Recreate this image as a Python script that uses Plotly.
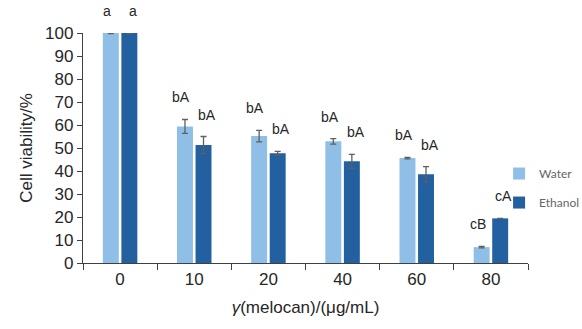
import plotly.graph_objects as go

categories = ["0", "10", "20", "40", "60", "80"]
water = [100, 59.4, 55.2, 52.9, 45.6, 6.9]
water_err = [0.3, 3.0, 2.5, 1.2, 0.3, 0.3]
ethanol = [100, 51.3, 47.7, 44.2, 38.6, 19.4]
ethanol_err = [0.3, 3.7, 0.8, 3.0, 3.3, 0]
water_labels = ["a", "bA", "bA", "bA", "bA", "cB"]
ethanol_labels = ["a", "bA", "bA", "bA", "bA", "cA"]
y_ticks = [0, 10, 20, 30, 40, 50, 60, 70, 80, 90, 100]
Y_MAX = 100

WATER_C = "#8FBFE6"
ETH_C = "#23609F"
FONT = "Liberation Sans, Arial, sans-serif"
AX_C = "#404040"

fig = go.Figure()
fig.add_trace(go.Bar(
    x=categories, y=water, name="Water", legendgroup="w",
    marker=dict(color=WATER_C, line=dict(width=0)),
    error_y=dict(type="data", array=water_err, color="#5f5f5f", thickness=1.3, width=3),
    cliponaxis=False,
))
fig.add_trace(go.Bar(
    x=categories, y=ethanol, name="Ethanol", legendgroup="e",
    marker=dict(color=ETH_C, line=dict(width=0)),
    error_y=dict(type="data", array=ethanol_err, color="#5f5f5f", thickness=1.3, width=3),
    cliponaxis=False,
))

# significance letters above each bar (placed at value + error); x is the category index
for i in range(len(categories)):
    fig.add_annotation(x=i, y=min(water[i] + water_err[i], Y_MAX), text=water_labels[i],
                       xref="x", yref="y", showarrow=False, xshift=-13, yshift=12,
                       yanchor="bottom", font=dict(family=FONT, size=14, color="#262626"))
    fig.add_annotation(x=i, y=min(ethanol[i] + ethanol_err[i], Y_MAX), text=ethanol_labels[i],
                       xref="x", yref="y", showarrow=False, xshift=13, yshift=12,
                       yanchor="bottom", font=dict(family=FONT, size=14, color="#262626"))

fig.update_layout(
    width=582, height=329,
    margin=dict(l=83, r=54, t=33, b=66, autoexpand=False),
    paper_bgcolor="white", plot_bgcolor="white",
    barmode="group", bargap=0.5, bargroupgap=0.14,
    font=dict(family=FONT, color="#262626"),
    showlegend=True,
    legend=dict(x=0.935, y=0.452, xanchor="left", yanchor="top",
                traceorder="grouped", tracegroupgap=10,
                font=dict(family="Lato, Open Sans, sans-serif", size=12, color="#666666"),
                bgcolor="rgba(0,0,0,0)", itemclick=False),
)
fig.update_xaxes(
    type="category", range=[-0.5, len(categories) - 0.5],
    showline=True, linecolor=AX_C, linewidth=1.3,
    ticks="outside", tickson="boundaries", ticklen=6, tickcolor=AX_C,
    tickfont=dict(size=17, family=FONT, color="#262626"),
    title=dict(text="<i>γ</i>(melocan)/(μg/mL)", font=dict(size=17, family=FONT, color="#262626"),
               standoff=13),
    showgrid=False,
)
fig.update_yaxes(
    range=[0, Y_MAX], tickvals=y_ticks, showline=True, linecolor=AX_C, linewidth=1.3,
    ticks="outside", ticklen=5, tickcolor=AX_C,
    tickfont=dict(size=17, family=FONT, color="#262626"),
    title=dict(text="Cell viability/%", font=dict(size=17, family=FONT, color="#262626"),
               standoff=8),
    showgrid=False, zeroline=False,
)

fig.write_html("out.html")
